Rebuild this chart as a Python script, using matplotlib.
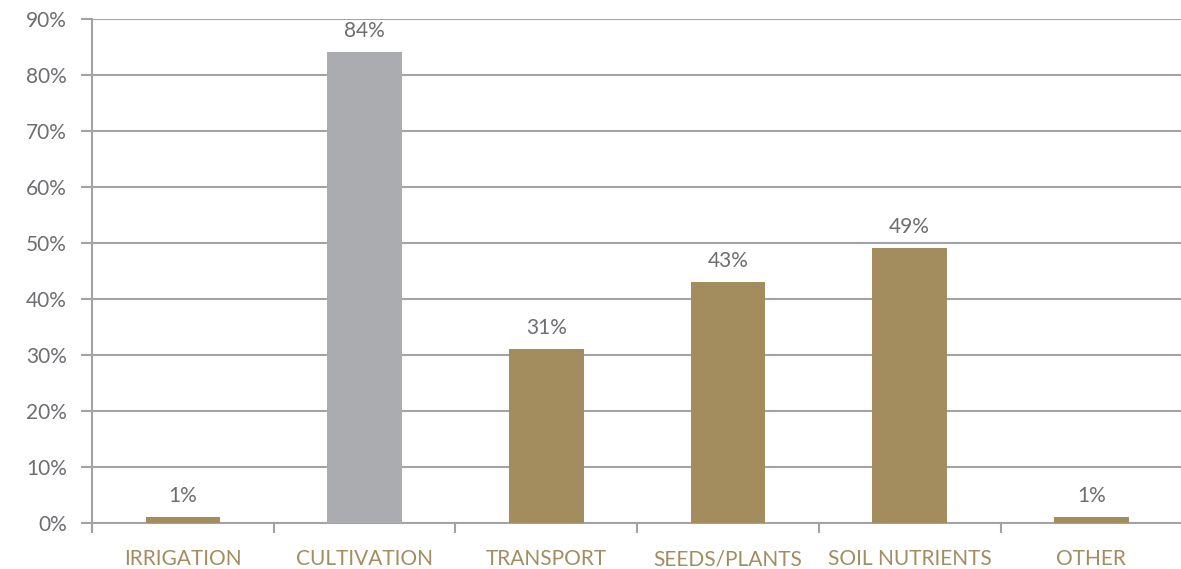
import matplotlib.pyplot as plt
from matplotlib.ticker import FixedLocator

plt.rcParams['font.family'] = ['Lato', 'DejaVu Sans']

categories = ["IRRIGATION", "CULTIVATION", "TRANSPORT", "SEEDS/PLANTS", "SOIL NUTRIENTS", "OTHER"]
values = [1, 84, 31, 43, 49, 1]
bar_colors = ["#A38D5E", "#ABACAF", "#A38D5E", "#A38D5E", "#A38D5E", "#A38D5E"]
y_ticks = [0, 10, 20, 30, 40, 50, 60, 70, 80, 90]

grid_color = "#A3A3A7"
text_gray = "#6D6E71"
gold = "#A38D5E"

fig = plt.figure(figsize=(11.81, 5.69), dpi=100)
ax = fig.add_axes([0.078, 0.081, 0.923, 0.886])

x = list(range(len(categories)))
bars = ax.bar(x, values, width=0.41, color=bar_colors, zorder=3)

for xi, v in zip(x, values):
    ax.annotate(f"{v}%", (xi, v), xytext=(0, 8), textcoords="offset points",
                ha="center", va="bottom", fontsize=15, color=text_gray)

ax.set_xlim(-0.5, len(categories) - 0.5)
ax.set_ylim(0, 90)
ax.set_yticks(y_ticks)
ax.set_yticklabels([f"{t}%" for t in y_ticks], fontsize=15, color=text_gray)
ax.set_xticks(x)
ax.set_xticklabels(categories, fontsize=15, color=gold)
ax.xaxis.set_minor_locator(FixedLocator([i - 0.5 for i in x]))

ax.tick_params(axis="x", which="major", length=0, pad=19)
ax.tick_params(axis="x", which="minor", length=7, width=1.5, color=grid_color)
ax.tick_params(axis="y", length=8, width=1.5, color=grid_color, pad=10)

ax.grid(axis="y", color=grid_color, linewidth=1.5, zorder=0)
for s in ["top", "right"]:
    ax.spines[s].set_visible(False)
ax.spines["left"].set_color(grid_color)
ax.spines["left"].set_linewidth(1.5)
ax.spines["left"].set_bounds(-1.3, 90)
ax.spines["bottom"].set_color(grid_color)
ax.spines["bottom"].set_linewidth(1.5)

fig.savefig("out.png", dpi=100)
